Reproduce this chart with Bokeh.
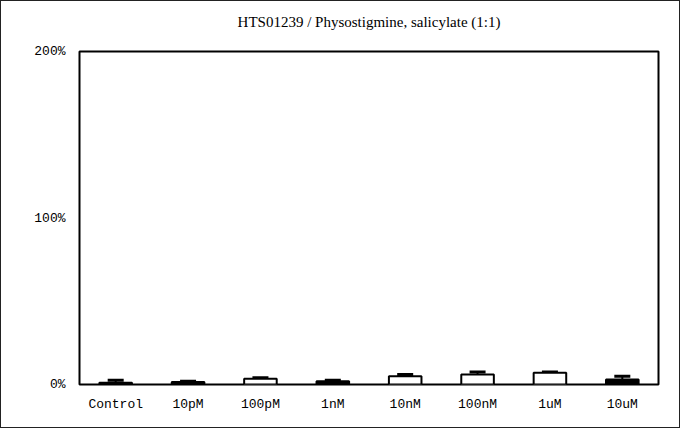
from bokeh.plotting import figure
from bokeh.models import (ColumnDataSource, Whisker, FixedTicker, Range1d, FactorRange,
                          CategoricalAxis)
from bokeh.embed import file_html
from bokeh.resources import INLINE

# ---- data ----
categories = ["Control", "10pM", "100pM", "1nM", "10nM", "100nM", "1uM", "10uM"]
values = [1.0, 1.5, 3.5, 2.0, 5.0, 6.0, 7.0, 3.0]        # % of control
errors = [1.5, 0.5, 0.5, 0.5, 1.0, 1.5, 0.5, 2.0]        # upper error
y_ticks = [0, 100, 200]
y_tick_labels = {0: "0%", 100: "100%", 200: "200%"}
title_text = "HTS01239 / Physostigmine, salicylate (1:1)"

# styles (kept separate from data)
bar_fill = ["black", "black", "white", "black", "white", "white", "white", "black"]

upper = [v + e for v, e in zip(values, errors)]
src = ColumnDataSource(dict(cat=categories, val=values, upper=upper, fill=bar_fill))

p = figure(
    x_range=FactorRange(*categories, range_padding=0.0),
    y_range=Range1d(0, 200),
    width=680, height=428,
    output_backend="svg", toolbar_location=None,
    min_border_left=78, min_border_right=23, min_border_bottom=45, min_border_top=50,
    styles={"border": "1px solid #222", "box-sizing": "border-box"},
)

p.vbar(x="cat", top="val", width=0.45, source=src, fill_color="fill",
       line_color="black", line_width=2)

w = Whisker(base="cat", upper="upper", lower="val", source=src,
            line_color="black", line_width=2)
w.upper_head.size = 16
w.upper_head.line_width = 3
w.upper_head.line_color = "black"
w.lower_head = None
p.add_layout(w)

# frame
p.outline_line_color = "black"
p.outline_line_width = 2
p.grid.visible = False
p.background_fill_color = "white"
p.border_fill_color = "white"

# main axes (grab them before adding the title axis)
xax = p.xaxis[0]
yax = p.yaxis[0]
yax.ticker = FixedTicker(ticks=y_ticks)
yax.major_label_overrides = y_tick_labels
for ax in (xax, yax):
    ax.axis_line_color = None
    ax.major_tick_line_color = None
    ax.minor_tick_line_color = None
    ax.major_tick_out = 0
    ax.major_tick_in = 0
    ax.major_label_text_font = "Liberation Mono"
    ax.major_label_text_font_size = "13px"
    ax.major_label_text_color = "black"
yax.major_label_standoff = 14
xax.major_label_standoff = 12

# title: a label-less axis above the frame whose axis label is the title
tax = CategoricalAxis(axis_label=title_text)
tax.axis_line_color = None
tax.major_tick_line_color = None
tax.minor_tick_line_color = None
tax.major_tick_out = 0
tax.major_tick_in = 0
tax.major_label_standoff = 0
tax.major_label_overrides = {c: "" for c in categories}
tax.major_label_text_font_size = "0px"
tax.axis_label_standoff = 22
tax.axis_label_text_font = "Liberation Serif"
tax.axis_label_text_font_size = "15px"
tax.axis_label_text_font_style = "normal"
tax.axis_label_text_color = "black"
p.add_layout(tax, "above")

open("out.html", "w").write(file_html(p, INLINE))
